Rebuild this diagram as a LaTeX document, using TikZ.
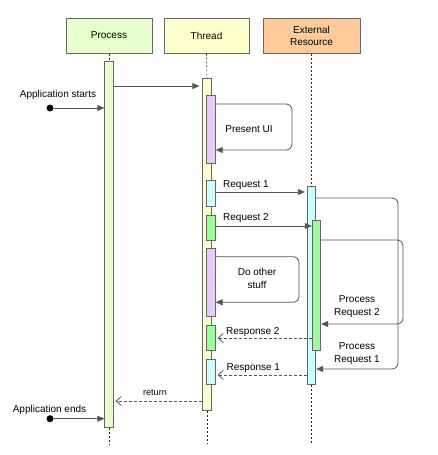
\documentclass[tikz,border=0pt]{standalone}
\usepackage{fontspec}
\setmainfont{Liberation Sans}
\usetikzlibrary{arrows.meta}
\definecolor{cProc}{HTML}{E6FFCC}
\definecolor{cThr}{HTML}{FFFFCC}
\definecolor{cExt}{HTML}{FFCC99}
\definecolor{cPur}{HTML}{E5CCFF}
\definecolor{cCyan}{HTML}{CCFFFF}
\definecolor{cGreen}{HTML}{99FF99}
\definecolor{edgec}{HTML}{666666}
\definecolor{wire}{HTML}{555555}
\begin{document}
\begin{tikzpicture}[x=1pt,y=-1pt,
  font=\fontsize{10}{12}\selectfont,
  head/.style={draw=edgec, line width=1pt, minimum height=35pt, inner sep=0pt, align=center},
  bar/.style={draw=edgec, line width=0.8pt, minimum width=8.5pt, inner sep=0pt, anchor=north},
  life/.style={draw=black!85, line width=0.6pt, dash pattern=on 2pt off 2pt},
  msg/.style={draw=wire, line width=0.8pt, -{Triangle[length=7pt,width=6pt]}},
  reply/.style={draw=wire, line width=0.8pt, dash pattern=on 3pt off 2pt, -{Straight Barb[length=5pt,width=9pt]}},
  loop/.style={msg, rounded corners=6pt},
  lbl/.style={inner sep=0pt, align=center, font=\fontsize{10}{13}\selectfont},
  startdot/.style={circle, fill=black, inner sep=0pt, minimum size=7pt}
]
\useasboundingbox[fill=white] (0,0) rectangle (438,455);

% headers
\node[head, fill=cProc, minimum width=86pt] (hp) at (109,35.5) {Process};
\node[head, fill=cThr, minimum width=85pt] (ht) at (206.5,35.5) {Thread};
\node[head, fill=cExt, minimum width=97pt] (he) at (311.5,35.5) {External\\Resource};

% lifeline ends
\coordinate (pe) at (109,444);
\coordinate (te) at (207,444);
\coordinate (ee) at (311.5,444);

% bars
\node[bar, fill=cProc, minimum height=366pt] (pbar) at (109,61) {};
\node[bar, fill=cThr, minimum height=332pt] (tbar) at (207,78) {};
\node[bar, fill=cPur, minimum height=68pt] (ui) at (211,95) {};
\node[bar, fill=cCyan, minimum height=26pt] (rq1) at (211,180) {};
\node[bar, fill=cGreen, minimum height=25pt] (rq2) at (211,215) {};
\node[bar, fill=cPur, minimum height=68pt] (other) at (211,248) {};
\node[bar, fill=cGreen, minimum height=25pt] (rs2) at (211,325) {};
\node[bar, fill=cCyan, minimum height=25pt] (rs1) at (211,359) {};
\node[bar, fill=cCyan, minimum height=198pt] (ecyan) at (311.5,186) {};
\node[bar, fill=cGreen, minimum height=130pt] (egreen) at (316.5,220) {};

% lifelines
\begin{scope}[on background layer/.style={}]
\draw[life] (hp.south) -- (pbar.north);
\draw[life] (pbar.south) -- (pe);
\draw[life] (ht.south) -- (tbar.north);
\draw[life] (tbar.south) -- (te);
\draw[life] (he.south) -- (ecyan.north);
\draw[life] (ecyan.south) -- (ee);
\end{scope}

% start / end
\node[startdot] (sdot) at (50,108) {};
\node[lbl] (slbl) at (58,95) {Application starts};
\draw[msg] (sdot) -- (sdot -| pbar.west);
\node[startdot] (edot) at (50,418.7) {};
\node[lbl] (elbl) at (49.5,410) {Application ends};
\draw[msg] (edot) -- (edot -| pbar.west);

% process -> thread
\draw[msg, shorten >=3pt] (pbar.east |- 0,86) -- (tbar.west |- 0,86);

% present UI loop
\draw[loop] (ui.east |- 0,104) -- (292,104) -- (292,150) -- (ui.east |- 0,150);
\node[lbl] (uilbl) at (249,129) {Present UI};

% requests
\draw[msg, shorten >=2pt] (rq1.east |- 0,192) -- (ecyan.west |- 0,192);
\node[lbl, anchor=west] (rq1lbl) at (223,185) {Request 1};
\draw[msg] (rq2.east |- 0,226) -- (egreen.west |- 0,226);
\node[lbl, anchor=west] (rq2lbl) at (223,218) {Request 2};

% do other stuff loop
\draw[loop] (other.east |- 0,256.7) -- (299,256.7) -- (299,302.3) -- (other.east |- 0,302.3);
\node[lbl] (otherlbl) at (257,278) {Do other\\stuff};

% process request loops
\draw[loop] (ecyan.east |- 0,198) -- (398,198) -- (398,369) -- (ecyan.east |- 0,369);
\draw[loop] (egreen.east |- 0,240) -- (403,240) -- (403,324) -- (egreen.east |- 0,324);
\node[lbl] (pr2lbl) at (357,307) {Process\\Request 2};
\node[lbl] (pr1lbl) at (357,353.5) {Process\\Request 1};

% responses
\draw[reply, shorten >=2pt] (egreen.west |- 0,338) -- (rs2.east |- 0,338);
\node[lbl, anchor=west] (rs2lbl) at (226,332) {Response 2};
\draw[reply, shorten >=2pt] (ecyan.west |- 0,375) -- (rs1.east |- 0,375);
\node[lbl, anchor=west] (rs1lbl) at (226.5,368) {Response 1};

% return
\draw[reply, shorten >=2pt] (tbar.west |- 0,401) -- (pbar.east |- 0,401);
\node[lbl, font=\fontsize{9}{11}\selectfont] (retlbl) at (155,393) {return};
\end{tikzpicture}
\end{document}
